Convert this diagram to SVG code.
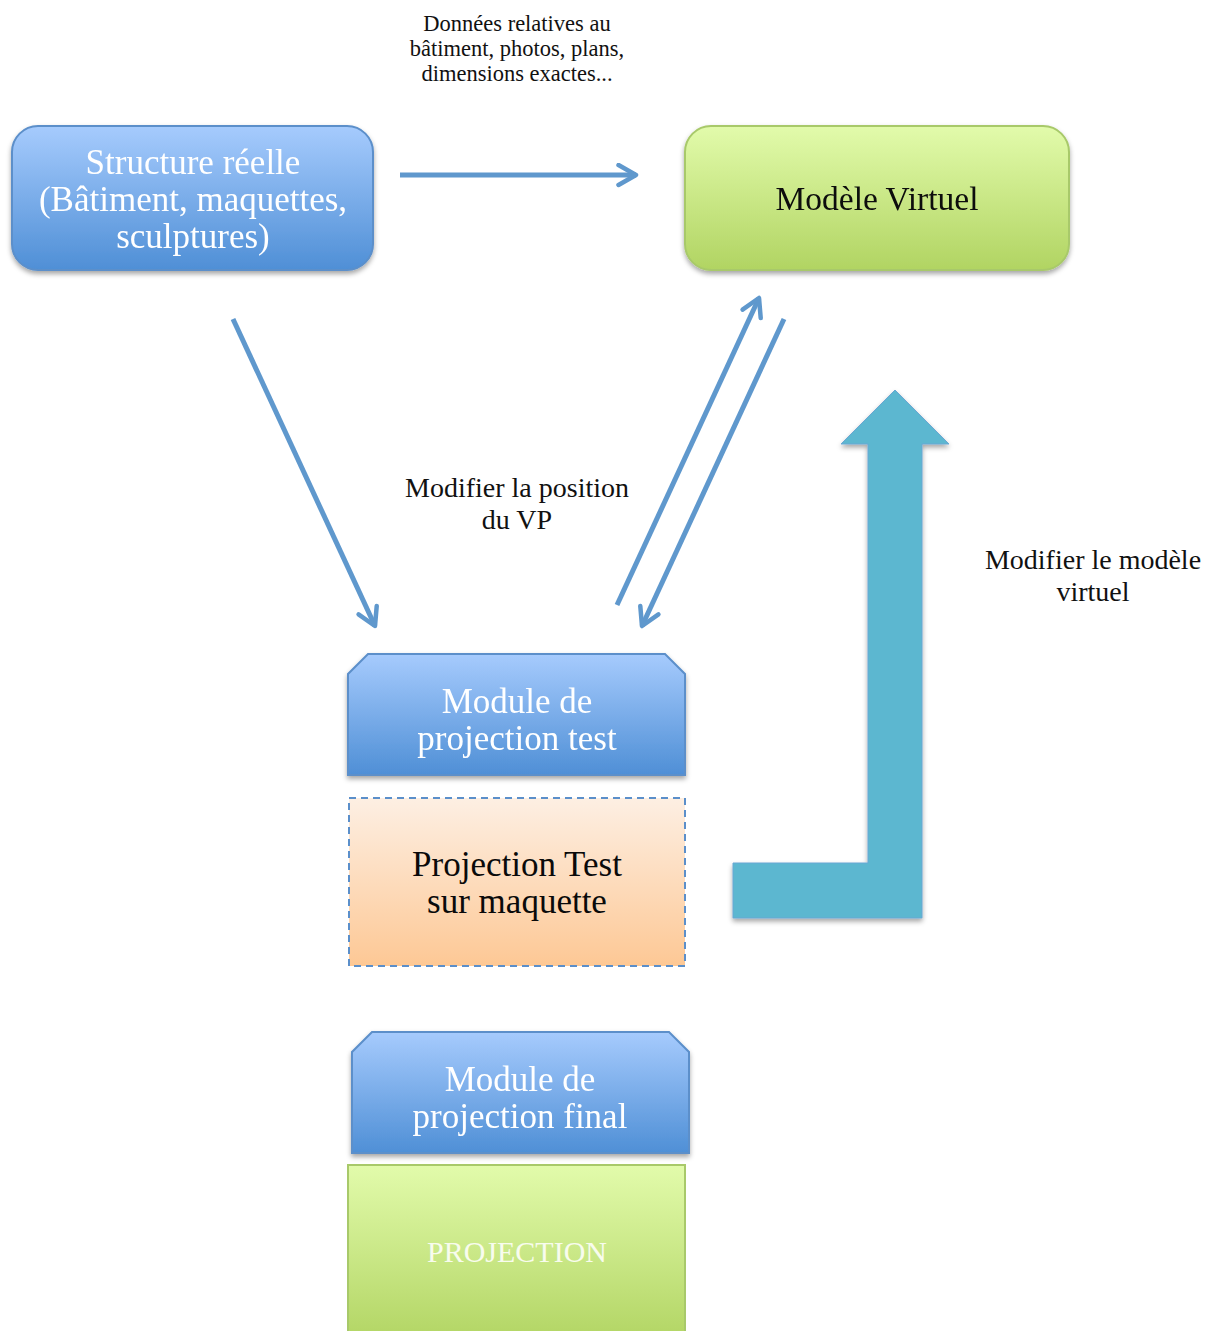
<svg xmlns="http://www.w3.org/2000/svg" width="1218" height="1331" viewBox="0 0 1218 1331">
  <defs>
    <linearGradient id="gBlue" x1="0" y1="0" x2="0" y2="1">
      <stop offset="0" stop-color="#a6cbfd"/>
      <stop offset="1" stop-color="#4f8fd6"/>
    </linearGradient>
    <linearGradient id="gGreen" x1="0" y1="0" x2="0" y2="1">
      <stop offset="0" stop-color="#e2fbab"/>
      <stop offset="1" stop-color="#b1d462"/>
    </linearGradient>
    <linearGradient id="gOrange" x1="0" y1="0" x2="0" y2="1">
      <stop offset="0" stop-color="#fdefe3"/>
      <stop offset="1" stop-color="#fdc895"/>
    </linearGradient>
    <filter id="shadow" x="-10%" y="-10%" width="120%" height="130%">
      <feDropShadow dx="0" dy="3" stdDeviation="2.5" flood-color="#000" flood-opacity="0.35"/>
    </filter>
    <marker id="chev" viewBox="0 0 10 10" refX="8" refY="5" markerWidth="5" markerHeight="5" orient="auto" markerUnits="strokeWidth">
      <path d="M1,1 L8,5 L1,9" fill="none" stroke="#5f98cd" stroke-width="1.8" stroke-linecap="round" stroke-linejoin="round"/>
    </marker>
  </defs>
  <style>
    text { font-family: "Liberation Serif", "DejaVu Serif", serif; text-anchor: middle; }
    .big { font-size: 35px; }
    .mid { font-size: 28px; fill: #111; }
    .small { font-size: 22.5px; fill: #111; }
    .white { fill: #ffffff; }
    .dark { fill: #0a0a0a; }
    .blueBox { fill: url(#gBlue); stroke: #5b8fca; stroke-width: 2; }
    .greenBox { fill: url(#gGreen); stroke: #a8c96a; stroke-width: 2; }
    .conn { stroke: #5f98cd; stroke-width: 5; fill: none; marker-end: url(#chev); }
  </style>
  <rect width="1218" height="1331" fill="#ffffff"/>

  <!-- free labels -->
  <g id="label-donnees">
    <text class="small" x="517" y="31">Données relatives au</text>
    <text class="small" x="517" y="56">bâtiment, photos, plans,</text>
    <text class="small" x="517" y="81">dimensions exactes...</text>
  </g>
  <g id="label-vp">
    <text class="mid" x="517" y="497">Modifier la position</text>
    <text class="mid" x="517" y="529">du VP</text>
  </g>
  <g id="label-modele">
    <text class="mid" x="1093" y="569">Modifier le modèle</text>
    <text class="mid" x="1093" y="601">virtuel</text>
  </g>

  <!-- nodes -->
  <g id="structure-reelle" filter="url(#shadow)">
    <rect class="blueBox" x="12" y="126" width="361" height="144" rx="26"/>
    <text class="big white" x="193" y="174">Structure réelle</text>
    <text class="big white" x="193" y="211">(Bâtiment, maquettes,</text>
    <text class="big white" x="193" y="248">sculptures)</text>
  </g>
  <g id="modele-virtuel" filter="url(#shadow)">
    <rect class="greenBox" x="685" y="126" width="384" height="144" rx="26"/>
    <text class="dark" x="877" y="210" font-size="33.5">Modèle Virtuel</text>
  </g>
  <g id="module-test" filter="url(#shadow)">
    <path class="blueBox" d="M368,654 L665,654 L685,674 L685,775 L348,775 L348,674 Z"/>
    <text class="big white" x="517" y="713">Module de</text>
    <text class="big white" x="517" y="750">projection test</text>
  </g>
  <g id="projection-test">
    <rect x="349" y="798" width="336" height="168" fill="url(#gOrange)" stroke="#5b8fca" stroke-width="2" stroke-dasharray="7,5"/>
    <text class="big dark" x="517" y="876">Projection Test</text>
    <text class="big dark" x="517" y="913">sur maquette</text>
  </g>
  <g id="module-final" filter="url(#shadow)">
    <path class="blueBox" d="M372,1032 L669,1032 L689,1052 L689,1153 L352,1153 L352,1052 Z"/>
    <text class="big white" x="520" y="1091">Module de</text>
    <text class="big white" x="520" y="1128">projection final</text>
  </g>
  <g id="projection">
    <rect class="greenBox" x="348" y="1165" width="337" height="180"/>
    <text x="517" y="1262" font-size="30" fill="#f8fcee">PROJECTION</text>
  </g>

  <!-- connectors -->
  <g id="connectors">
    <line class="conn" x1="400" y1="175" x2="636" y2="175"/>
    <line class="conn" x1="233" y1="319" x2="375" y2="626"/>
    <line class="conn" x1="617" y1="605" x2="759" y2="298"/>
    <line class="conn" x1="784" y1="319" x2="642" y2="626"/>
    <path filter="url(#shadow)" d="M733,863 L868,863 L868,444 L841,444 L895,390 L949,444 L922,444 L922,918 L733,918 Z" fill="#5bb7d0" stroke="#6aa7d3" stroke-width="1"/>
  </g>
</svg>
